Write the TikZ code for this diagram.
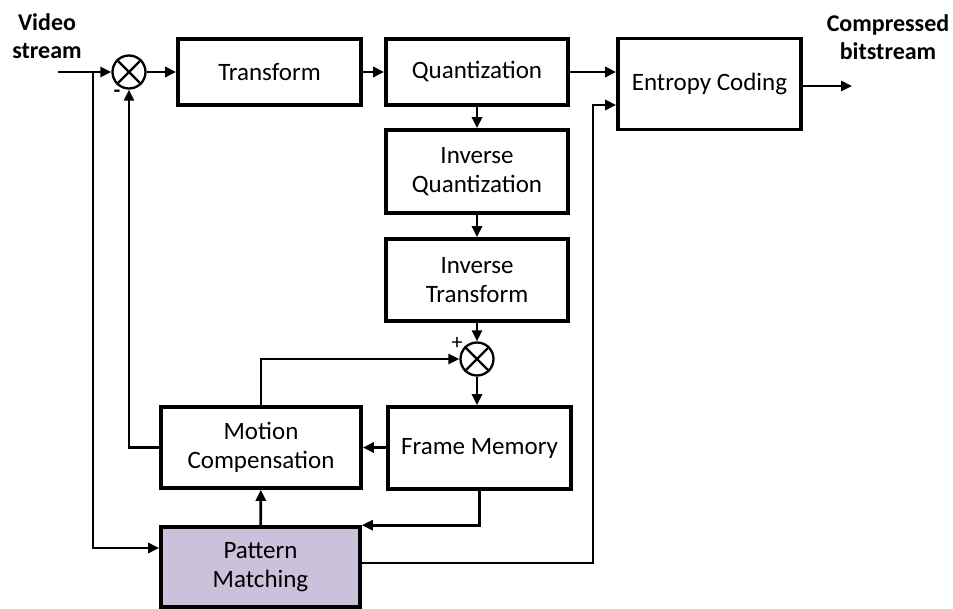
\documentclass[tikz,border=0pt]{standalone}
\usepackage{fontspec}
\setmainfont{Carlito}
\usetikzlibrary{arrows.meta,calc}
\definecolor{lav}{RGB}{204,193,218}
\begin{document}
\begin{tikzpicture}[x=1pt,y=-1pt,
 blk/.style={draw,line width=3.6pt,rectangle,align=center,font=\fontsize{25}{29}\selectfont,inner sep=0pt},
 sumc/.style={draw,line width=2.3pt,circle,minimum size=33pt,inner sep=0pt},
 conn/.style={line width=2.6pt,-{Triangle[length=11pt,width=10pt]}},
 wire/.style={line width=2.6pt},
 lbl/.style={font=\fontsize{24}{28}\selectfont\bfseries,align=center},
 sgn/.style={font=\fontsize{22}{24}\selectfont,inner sep=0pt}]
\useasboundingbox (0,0) rectangle (953,609);
% blocks
\node[blk,minimum width=183pt,minimum height=66pt] (tr) at (269.5,72) {Transform};
\node[blk,minimum width=182pt,minimum height=66pt] (qu) at (477,72) {Quantization};
\node[blk,minimum width=183pt,minimum height=91pt] (ec) at (709.5,84) {Entropy Coding};
\node[blk,minimum width=182pt,minimum height=83pt] (iq) at (477,171.5) {Inverse\\Quantization};
\node[blk,minimum width=182pt,minimum height=82pt] (it) at (477,280) {Inverse\\Transform};
\node[blk,minimum width=200pt,minimum height=81pt] (mc) at (261,447.5) {Motion\\Compensation};
\node[blk,minimum width=183pt,minimum height=82pt] (fm) at (479.5,448) {Frame Memory};
\node[blk,fill=lav,minimum width=199pt,minimum height=80pt] (pm) at (260.5,567) {Pattern\\Matching};
% summing junctions
\node[sumc] (s1) at (129,72) {};
\draw[line width=2.3pt] (s1.north west) -- (s1.south east) (s1.north east) -- (s1.south west);
\node[sumc] (s2) at (477,359) {};
\draw[line width=2.3pt] (s2.north west) -- (s2.south east) (s2.north east) -- (s2.south west);
\node[sgn] (minus) at (117,94) {\textbf{-}};
\node[sgn] (plus) at (457,343) {+};
% labels
\node[lbl] (vs) at (47,36) {Video\\stream};
\node[lbl] (cb) at (888,37) {Compressed\\bitstream};
% coordinates
\coordinate (in) at (58,72);
\coordinate (br) at (93,72);
\coordinate (out) at (852,86);
\coordinate (bend) at (593,105);
% connectors
\draw[conn] (in) -- (s1);
\draw[conn] (br) |- ([yshift=19pt]pm.west);
\draw[conn] (s1) -- (tr);
\draw[conn] (tr) -- (qu);
\draw[conn] (qu.east) -- (qu.east -| ec.west);
\draw[conn] (ec.east |- out) -- (out);
\draw[conn] (qu) -- (iq);
\draw[conn] (iq) -- (it);
\draw[conn] (it) -- (s2);
\draw[conn] (s2) -- (s2 |- fm.north);
\draw[conn] (fm.west |- mc.east) -- (mc.east);
\draw[conn] (mc.west) -| (s1.south);
\draw[conn] (mc.north) |- (s2.west);
\draw[conn] (fm.south) |- (pm.north east);
\draw[conn] (pm) -- (mc);
\draw[conn] ([yshift=4pt]pm.east) -| (bend) -- (bend -| ec.west);
\end{tikzpicture}
\end{document}
